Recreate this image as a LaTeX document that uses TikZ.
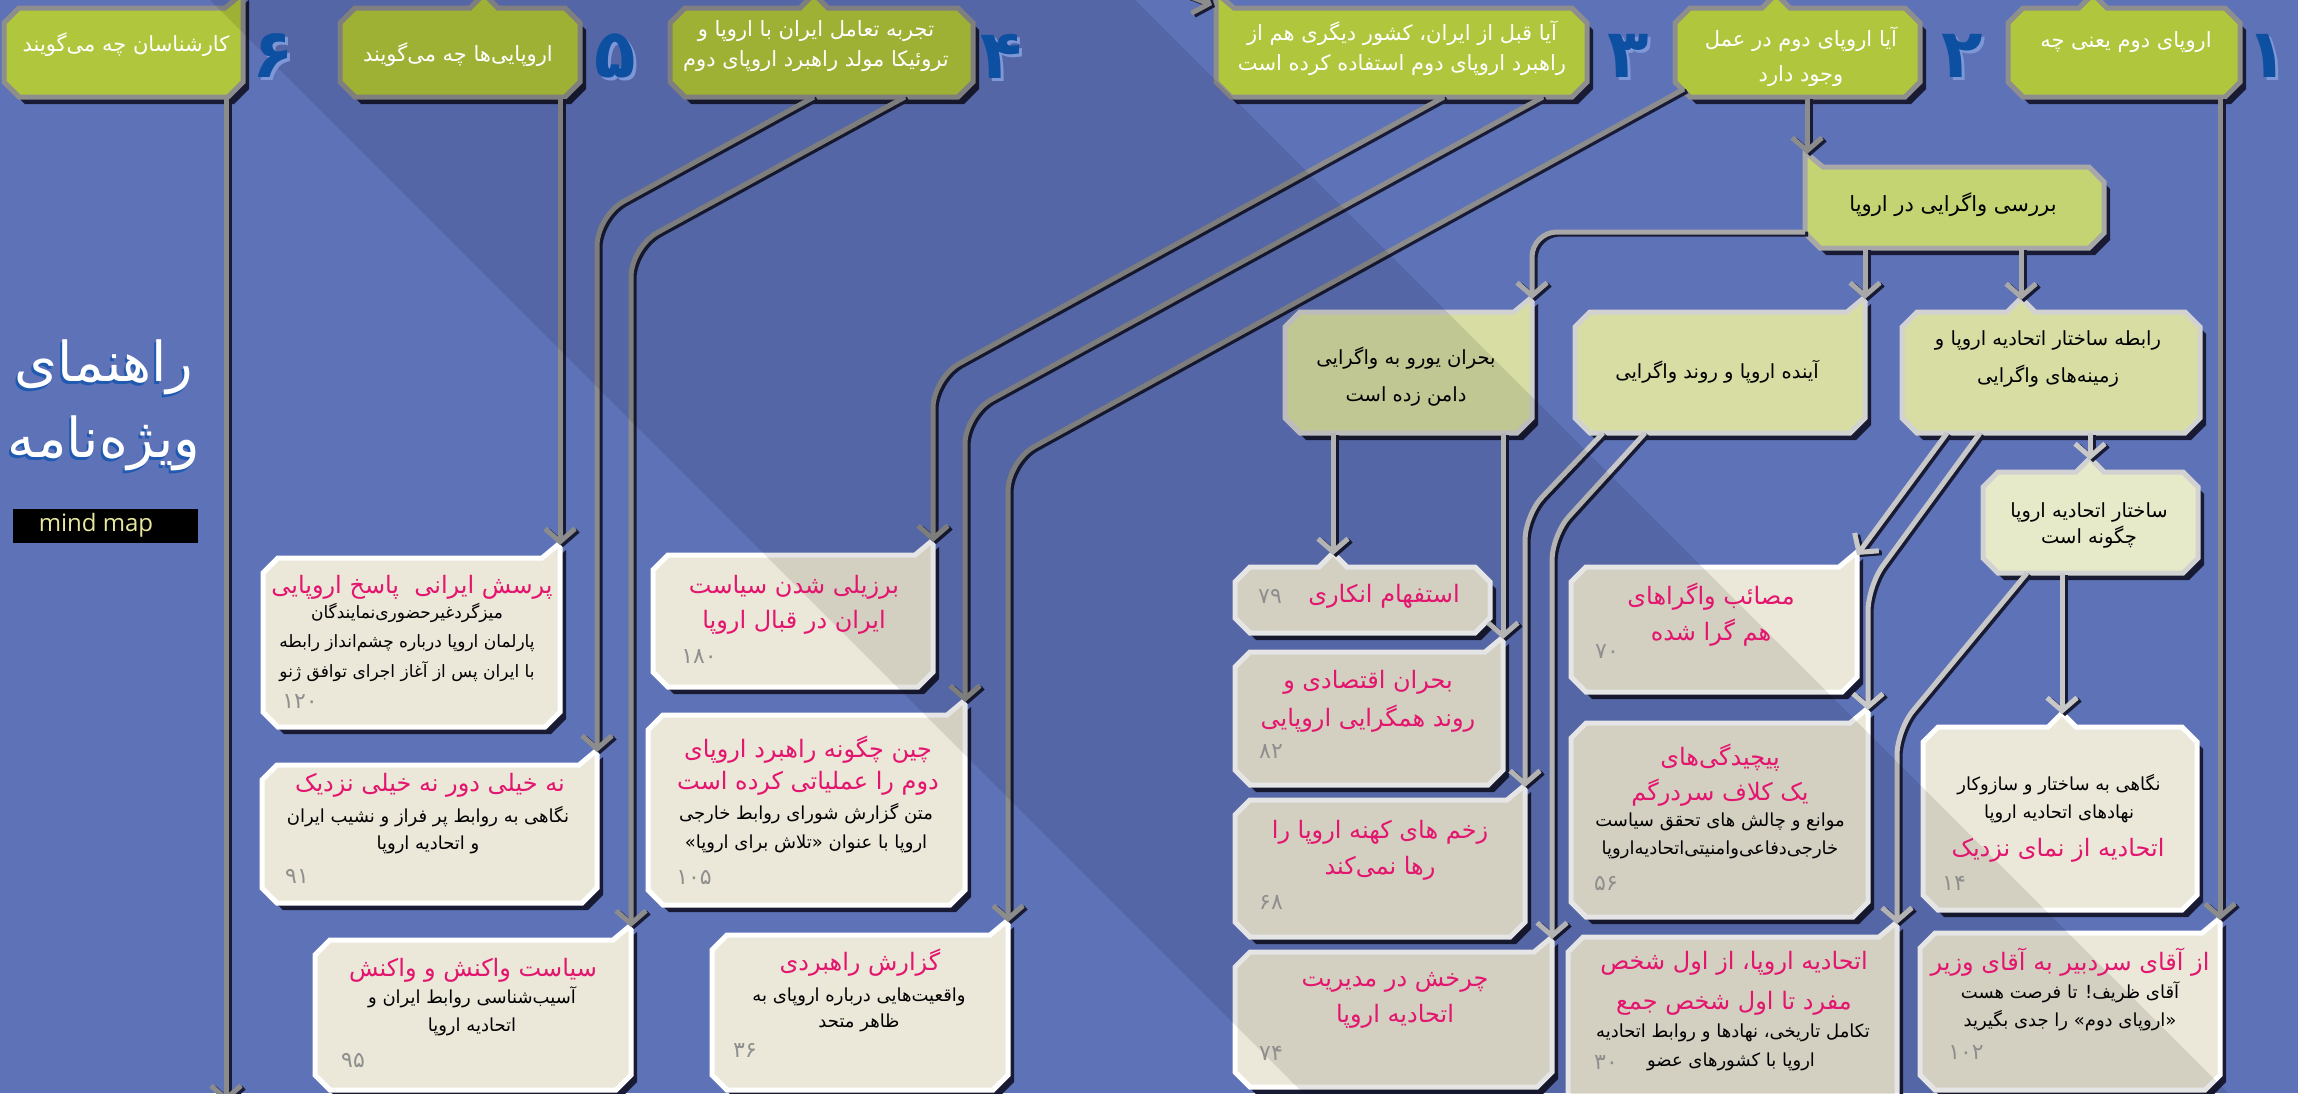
\documentclass[tikz,border=0pt]{standalone}
\usepackage{fontspec}
\usetikzlibrary{arrows.meta}
\setmainfont{DejaVu Sans}
\newfontfamily\fa[Script=Arabic]{DejaVu Sans}
\newfontfamily\lat{Open Sans}
\TeXXeTstate=1
\newcommand\R[1]{\beginR#1\endR}
\definecolor{bg}{HTML}{5E72B8}
\definecolor{hgreen}{HTML}{B0C63C}
\definecolor{hborder}{HTML}{8E8E8E}
\definecolor{cgreen}{HTML}{C5D472}
\definecolor{cborder}{HTML}{A8A8A8}
\definecolor{dgreen}{HTML}{D8DEA3}
\definecolor{dborder}{HTML}{D2D2D2}
\definecolor{lgreen}{HTML}{E6EAC9}
\definecolor{cream}{HTML}{EBE8D9}
\definecolor{mag}{HTML}{E3156E}
\definecolor{numgray}{HTML}{8E8E8E}
\definecolor{shad}{HTML}{181B33}
\definecolor{numblue}{HTML}{0D4FA0}
\definecolor{numlight}{HTML}{7E97D6}
\definecolor{titleblue}{HTML}{1F5AB0}
\definecolor{lnA}{HTML}{8C8C8C}
\definecolor{lnB}{HTML}{A8A8A8}
\definecolor{lnC}{HTML}{C8C8C8}
\definecolor{mmtext}{HTML}{E8E8A0}
\def\cc{15}
\newcommand\pTR[4]{({#1+\cc},#2) -- ({#3-18},#2) -- (#3,{#2-15}) -- (#3,{#4-\cc}) -- ({#3-\cc},#4) -- ({#1+\cc},#4) -- (#1,{#4-\cc}) -- (#1,{#2+\cc}) -- cycle}
\newcommand\pPK[5]{({#1+\cc},#2) -- ({#5-14},#2) -- (#5,{#2-14}) -- ({#5+14},#2) -- ({#3-\cc},#2) -- (#3,{#2+\cc}) -- (#3,{#4-\cc}) -- ({#3-\cc},#4) -- ({#1+\cc},#4) -- (#1,{#4-\cc}) -- (#1,{#2+\cc}) -- cycle}
\newcommand\pTL[4]{(#1,{#2-15}) -- ({#1+18},#2) -- ({#3-\cc},#2) -- (#3,{#2+\cc}) -- (#3,{#4-\cc}) -- ({#3-\cc},#4) -- ({#1+\cc},#4) -- (#1,{#4-\cc}) -- cycle}
\newcommand\boxTR[5]{\fill[shad,shift={(6,7)}] \pTR{#2}{#3}{#4}{#5}; \filldraw[#1] \pTR{#2}{#3}{#4}{#5};}
\newcommand\boxPK[6]{\fill[shad,shift={(6,7)}] \pPK{#2}{#3}{#4}{#5}{#6}; \filldraw[#1] \pPK{#2}{#3}{#4}{#5}{#6};}
\newcommand\boxTL[5]{\fill[shad,shift={(6,7)}] \pTL{#2}{#3}{#4}{#5}; \filldraw[#1] \pTL{#2}{#3}{#4}{#5};}
\newcommand\link[3][]{%
  \draw[linkbase,shad,transform canvas={shift={(3,2)}},#1] #3;
  \draw[linkbase,#2,#1] #3;}
\begin{document}
\begin{tikzpicture}[x=1pt,y=-1pt,
  hbox/.style={fill=hgreen,draw=hborder,line width=5pt},
  cbox/.style={fill=cgreen,draw=cborder,line width=5pt},
  dbox/.style={fill=dgreen,draw=dborder,line width=5pt},
  lbox/.style={fill=lgreen,draw=dborder,line width=5pt},
  crbox/.style={fill=cream,draw=white,line width=5pt},
  linkbase/.style={line width=5pt,-{Straight Barb[length=13pt,width=30pt]}},
  ht/.style={inner sep=0pt,text=white,align=center,font=\fa\fontsize{21}{30}\selectfont},
  ct/.style={inner sep=0pt,text=black,align=center,font=\fa\fontsize{21}{30}\selectfont},
  dt/.style={inner sep=0pt,text=black,align=center,font=\fa\fontsize{19.5}{37}\selectfont},
  mt/.style={inner sep=0pt,text=mag,align=center,font=\fa\fontsize{24}{36}\selectfont},
  bt/.style={inner sep=0pt,text=black,align=center,font=\fa\fontsize{18}{28}\selectfont},
  nt/.style={inner sep=0pt,text=numgray,font=\fa\fontsize{22}{24}\selectfont},
  bignum/.style={inner sep=0pt,font=\fa\bfseries\fontsize{68}{68}\selectfont},
  titlet/.style={inner sep=0pt,font=\fa\fontsize{55}{60}\selectfont}]
\useasboundingbox (0,0) rectangle (2298,1093);
\clip (0,0) rectangle (2298,1093);
\fill[bg] (0,0) rectangle (2298,1093);

% ---------- boxes ----------
\boxTR{hbox}{4}{8}{243}{97}
\boxPK{hbox}{340}{8}{580}{97}{484}
\boxPK{hbox}{670}{8}{973}{97}{814}
\boxTL{hbox}{1216}{8}{1587}{97}
\boxPK{hbox}{1675}{8}{1920}{97}{1776}
\boxPK{hbox}{2008}{8}{2240}{97}{2093}

\boxTL{cbox}{1805}{167}{2104}{248}
\boxTR{dbox}{1285}{312}{1532}{433}
\boxTR{dbox}{1575}{312}{1865}{433}
\boxPK{dbox}{1902}{312}{2200}{433}{2021}
\boxPK{lbox}{1983}{472}{2198}{573}{2090}

\boxPK{crbox}{1235}{567}{1490}{633}{1333}
\boxTR{crbox}{1235}{652}{1503}{785}
\boxTR{crbox}{1235}{800}{1525}{937}
\boxTR{crbox}{1235}{952}{1552}{1087}
\boxTR{crbox}{1571}{567}{1857}{692}
\boxTR{crbox}{1571}{723}{1868}{917}
\boxTR{crbox}{1568}{937}{1897}{1110}
\boxPK{crbox}{1923}{727}{2197}{910}{2062}
\boxTR{crbox}{1920}{933}{2220}{1090}

\boxTR{crbox}{263}{558}{560}{727}
\boxTR{crbox}{262}{765}{597}{903}
\boxTR{crbox}{315}{940}{631}{1090}
\boxTR{crbox}{653}{555}{933}{687}
\boxTR{crbox}{648}{715}{965}{905}
\boxTR{crbox}{712}{935}{1008}{1090}

% ---------- connector points ----------
\coordinate (h6b) at (226,97);
\coordinate (end6) at (226,1102);
\coordinate (h5b) at (560,97);
\coordinate (a1tip) at (560,545);
\coordinate (h4b1) at (814,97);
\coordinate (k1) at (597,216);
\coordinate (a2tip) at (597,752);
\coordinate (h4b2) at (905,97);
\coordinate (k2) at (631,247);
\coordinate (a3tip) at (631,927);
\coordinate (h3b1) at (1444,97);
\coordinate (k3) at (933,378);
\coordinate (b1tip) at (933,542);
\coordinate (h3b2) at (1543,97);
\coordinate (k4) at (965,414);
\coordinate (b2tip) at (965,702);
\coordinate (h2bl) at (1684,89);
\coordinate (k5) at (1008,461);
\coordinate (b3tip) at (1008,922);
\coordinate (h2b) at (1807,97);
\coordinate (c0tip) at (1807,154);
\coordinate (h1b) at (2220,97);
\coordinate (f2tip) at (2220,920);
\coordinate (offin) at (1120,-30);
\coordinate (h3tip) at (1212,5);

\coordinate (c0l) at (1805,232);
\coordinate (d1tip) at (1532,299);
\coordinate (c0b1) at (1865,248);
\coordinate (d2tip) at (1865,299);
\coordinate (c0b2) at (2021,248);
\coordinate (d3tip) at (2021,300);
\coordinate (d3b0) at (2090,433);
\coordinate (d4tip) at (2090,460);
\coordinate (d1b1) at (1333,433);
\coordinate (g1tip) at (1333,555);
\coordinate (d1b2) at (1503,433);
\coordinate (g2tip) at (1503,639);
\coordinate (d2b1) at (1603,433);
\coordinate (k6) at (1525,515);
\coordinate (g3tip) at (1525,787);
\coordinate (d2b2) at (1645,433);
\coordinate (k7) at (1552,535);
\coordinate (g4tip) at (1552,939);
\coordinate (d3b1) at (1947,433);
\coordinate (e1tip) at (1857,555);
\coordinate (d3b2) at (1980,433);
\coordinate (k8) at (1868,586);
\coordinate (e2tip) at (1868,710);
\coordinate (d4b1) at (2027,573);
\coordinate (k9) at (1897,730);
\coordinate (e3tip) at (1897,924);
\coordinate (d4b2) at (2062,573);
\coordinate (f1tip) at (2062,714);

% ---------- connectors ----------
\link{lnA}{(h6b) -- (end6)}
\link{lnA}{(h5b) -- (a1tip)}
\link[rounded corners=30]{lnA}{(h4b1) -- (k1) -- (a2tip)}
\link[rounded corners=30]{lnA}{(h4b2) -- (k2) -- (a3tip)}
\link[rounded corners=30]{lnA}{(h3b1) -- (k3) -- (b1tip)}
\link[rounded corners=30]{lnA}{(h3b2) -- (k4) -- (b2tip)}
\link[rounded corners=30]{lnA}{(h2bl) -- (k5) -- (b3tip)}
\link{lnA}{(h2b) -- (c0tip)}
\link{lnA}{(h1b) -- (f2tip)}
\link{lnA}{(offin) -- (h3tip)}

\link[rounded corners=25]{lnB}{(c0l) -| (d1tip)}
\link{lnB}{(c0b1) -- (d2tip)}
\link{lnB}{(c0b2) -- (d3tip)}
\link{lnC}{(d3b0) -- (d4tip)}
\link{lnC}{(d1b1) -- (g1tip)}
\link{lnC}{(d1b2) -- (g2tip)}
\link[rounded corners=25]{lnC}{(d2b1) -- (k6) -- (g3tip)}
\link[rounded corners=25]{lnC}{(d2b2) -- (k7) -- (g4tip)}
\link{lnC}{(d3b1) -- (e1tip)}
\link[rounded corners=25]{lnC}{(d3b2) -- (k8) -- (e2tip)}
\link[rounded corners=25]{lnC}{(d4b1) -- (k9) -- (e3tip)}
\link{lnC}{(d4b2) -- (f1tip)}

% ---------- diagonal shade band ----------
\fill[black,opacity=0.1] (210,0) -- (1135,0) -- (2228,1093) -- (1303,1093) -- cycle;

% ---------- big numbers ----------
\foreach \nm/\xx/\dg in {n6/273/۶,n5/615/۵,n4/1001/۴,n3/1628/۳,n2/1962/۲,n1/2267/۱}{
  \node[bignum,text=numlight] (\nm s) at (\xx+3,59) {\dg};
  \node[bignum,text=numblue] (\nm) at (\xx,56) {\dg};
}

% ---------- title ----------
\node[titlet,text=titleblue] (t1s) at (102,370) {\R{راهنمای}};
\node[titlet,text=white] (t1) at (104,367) {\R{راهنمای}};
\node[titlet,text=titleblue] (t2s) at (102,446) {\R{ویژه^^^^200cنامه}};
\node[titlet,text=white] (t2) at (104,443) {\R{ویژه^^^^200cنامه}};
\fill[black] (13,509) rectangle (198,543);
\node[inner sep=0pt,text=mmtext,font=\lat\fontsize{24}{26}\selectfont] (mm) at (96,525) {mind map};

% ---------- header texts ----------
\node[ht] (h6t) at (126,45) {\R{کارشناسان چه می^^^^200cگویند}};
\node[ht] (h5t) at (458,55) {\R{اروپایی^^^^200cها چه می^^^^200cگویند}};
\node[ht] (h4t) at (816,46) {\R{تجربه تعامل ایران با اروپا و}\\\R{تروئیکا مولد راهبرد اروپای دوم}};
\node[ht] (h3t) at (1402,48) {\R{آیا قبل از ایران، کشور دیگری هم از}\\\R{راهبرد اروپای دوم استفاده کرده است}};
\node[ht,font=\fa\fontsize{21}{35}\selectfont] (h2t) at (1801,57) {\R{آیا اروپای دوم در عمل}\\\R{وجود دارد}};
\node[ht] (h1t) at (2126,42) {\R{اروپای دوم یعنی چه}};

% ---------- green boxes ----------
\node[ct] (c0t) at (1953,205) {\R{بررسی واگرایی در اروپا}};
\node[dt] (d1t) at (1406,377) {\R{بحران یورو به واگرایی}\\\R{دامن زده است}};
\node[dt] (d2t) at (1717,372) {\R{آینده اروپا و روند واگرایی}};
\node[dt] (d3t) at (2048,359) {\R{رابطه ساختار اتحادیه اروپا و}\\\R{زمینه^^^^200cهای واگرایی}};
\node[dt,font=\fa\fontsize{19.5}{26}\selectfont] (d4t) at (2089,525) {\R{ساختار اتحادیه اروپا}\\\R{چگونه است}};

% ---------- left cream boxes ----------
\node[mt] (a1m) at (412,587) {\R{پرسش ایرانی\ \ پاسخ اروپایی}};
\node[bt,font=\fa\fontsize{17}{29.5}\selectfont] (a1b) at (407,642) {\R{میزگردغیرحضوری^^^^200cنمایندگان}\\\R{پارلمان اروپا درباره چشم^^^^200cانداز رابطه}\\\R{با ایران پس از آغاز اجرای توافق ژنو}};
\node[nt] (a1n) at (300,702) {۱۲۰};

\node[mt] (a2m) at (430,785) {\R{نه خیلی دور نه خیلی نزدیک}};
\node[bt,font=\fa\fontsize{18}{27}\selectfont] (a2b) at (428,830) {\R{نگاهی به روابط پر فراز و نشیب ایران}\\\R{و اتحادیه اروپا}};
\node[nt] (a2n) at (297,876) {۹۱};

\node[mt] (a3m) at (473,970) {\R{سیاست واکنش و واکنش}};
\node[bt] (a3b) at (472,1011) {\R{آسیب^^^^200cشناسی روابط ایران و}\\\R{اتحادیه اروپا}};
\node[nt] (a3n) at (353,1060) {۹۵};

\node[mt,font=\fa\fontsize{24}{35}\selectfont] (b1m) at (794,605) {\R{برزیلی شدن سیاست}\\\R{ایران در قبال اروپا}};
\node[nt] (b1n) at (699,657) {۱۸۰};

\node[mt,font=\fa\fontsize{24}{32}\selectfont] (b2m) at (808,766) {\R{چین چگونه راهبرد اروپای}\\\R{دوم را عملیاتی کرده است}};
\node[bt,font=\fa\fontsize{18}{29}\selectfont] (b2b) at (806,828) {\R{متن گزارش شورای روابط خارجی}\\\R{اروپا با عنوان «تلاش برای اروپا»}};
\node[nt] (b2n) at (694,877) {۱۰۵};

\node[mt] (b3m) at (860,963) {\R{گزارش راهبردی}};
\node[bt,font=\fa\fontsize{18}{26}\selectfont] (b3b) at (859,1010) {\R{واقعیت^^^^200cهایی درباره اروپای به}\\\R{ظاهر متحد}};
\node[nt] (b3n) at (745,1050) {۳۶};

% ---------- right cream boxes ----------
\node[mt] (g1m) at (1384,596) {\R{استفهام انکاری}};
\node[nt] (g1n) at (1270,596) {۷۹};

\node[mt,font=\fa\fontsize{24}{38}\selectfont] (g2m) at (1368,701) {\R{بحران اقتصادی و}\\\R{روند همگرایی اروپایی}};
\node[nt] (g2n) at (1271,752) {۸۲};

\node[mt] (g3m) at (1380,850) {\R{زخم های کهنه اروپا را}\\\R{رها نمی^^^^200cکند}};
\node[nt] (g3n) at (1271,902) {۶۸};

\node[mt] (g4m) at (1395,1000) {\R{چرخش در مدیریت}\\\R{اتحادیه اروپا}};
\node[nt] (g4n) at (1271,1053) {۷۴};

\node[mt] (e1m) at (1711,615) {\R{مصائب واگراهای}\\\R{هم گرا شده}};
\node[nt] (e1n) at (1607,652) {۷۰};

\node[mt,font=\fa\fontsize{24}{35}\selectfont] (e2m) at (1720,775) {\R{پیچیدگی^^^^200cهای}\\\R{یک کلاف سردرگم}};
\node[bt] (e2b) at (1720,836) {\R{موانع و چالش های تحقق سیاست}\\\R{خارجی^^^^200cدفاعی^^^^200cوامنیتی^^^^200cاتحادیه^^^^200cاروپا}};
\node[nt] (e2n) at (1606,883) {۵۶};

\node[mt,font=\fa\fontsize{24}{40}\selectfont] (e3m) at (1734,983) {\R{اتحادیه اروپا، از اول شخص}\\\R{مفرد تا اول شخص جمع}};
\node[bt] (e3b1) at (1733,1033) {\R{تکامل تاریخی، نهادها و روابط اتحادیه}};
\node[bt] (e3b2) at (1731,1062) {\R{اروپا با کشورهای عضو}};
\node[nt] (e3n) at (1606,1062) {۳۰};

\node[bt] (f1b) at (2059,799) {\R{نگاهی به ساختار و سازوکار}\\\R{نهادهای اتحادیه اروپا}};
\node[mt] (f1m) at (2058,850) {\R{اتحادیه از نمای نزدیک}};
\node[nt] (f1n) at (1954,883) {۱۴};

\node[mt] (f2m) at (2070,962) {\R{از آقای سردبیر به آقای وزیر}};
\node[bt] (f2b) at (2070,1006) {\R{آقای ظریف! تا فرصت هست}\\\R{«اروپای دوم» را جدی بگیرید}};
\node[nt] (f2n) at (1966,1052) {۱۰۲};
\end{tikzpicture}
\end{document}
